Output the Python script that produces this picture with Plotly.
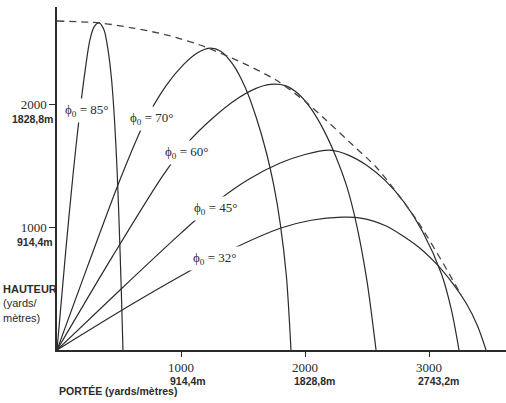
import plotly.graph_objects as go

# Trajectoires (portée / hauteur en yards)
x_85 = [0, 70, 129, 180, 225, 265, 300, 340, 380, 410, 440, 465, 485, 502, 518, 532]
y_85 = [0, 800, 1423, 1900, 2260, 2520, 2630, 2660, 2600, 2450, 2200, 1850, 1450, 1000, 500, 0]

x_70 = [0, 250, 508, 700, 880, 1020, 1130, 1230, 1320, 1420, 1520, 1610, 1690, 1750, 1800, 1850, 1887]
y_70 = [0, 690, 1385, 1840, 2150, 2320, 2415, 2455, 2430, 2320, 2130, 1880, 1600, 1330, 1030, 600, 0]

x_60 = [0, 450, 855, 1050, 1250, 1450, 1600, 1720, 1840, 1950, 2050, 2150, 2250, 2340, 2420, 2500, 2573]
y_60 = [0, 765, 1420, 1680, 1880, 2040, 2125, 2160, 2150, 2080, 1960, 1790, 1570, 1320, 1000, 560, 0]

x_45 = [0, 500, 1000, 1300, 1550, 1800, 2000, 2200, 2350, 2500, 2650, 2800, 2950, 3100, 3180, 3242]
y_45 = [0, 480, 950, 1215, 1390, 1520, 1590, 1625, 1585, 1500, 1375, 1200, 960, 620, 330, 0]

x_32 = [0, 600, 1129, 1400, 1800, 2050, 2300, 2450, 2650, 2900, 3060, 3200, 3300, 3390, 3460]
y_32 = [0, 370, 675, 815, 990, 1055, 1080, 1073, 1010, 850, 700, 530, 380, 200, 0]

# enveloppe (tirets)
x_env = [0, 347, 613, 887, 1153, 1500, 1766, 2008, 2169, 2387, 2573, 2766, 2911, 3113, 3250]
y_env = [2675, 2659, 2618, 2561, 2480, 2333, 2195, 2016, 1870, 1665, 1488, 1244, 1041, 707, 463]

angles = ["85", "70", "60", "45", "32"]
label_x = [234, 766, 1048, 1282, 1274]
label_y = [1951, 1886, 1610, 1154, 740]

x_ticks = [1000, 2000, 3000]
x_metres = ["914,4m", "1828,8m", "2743,2m"]
y_ticks = [1000, 2000]
y_metres = ["914,4m", "1828,8m"]

ink = '#2b2b2b'
serif = "Liberation Serif"
sans = "Liberation Sans"

fig = go.Figure()

for xs, ys in [(x_85, y_85), (x_70, y_70), (x_60, y_60), (x_45, y_45), (x_32, y_32)]:
    fig.add_trace(go.Scatter(
        x=xs, y=ys, mode='lines',
        line=dict(color=ink, width=1.2, shape='spline', smoothing=0.8),
        showlegend=False, hoverinfo='skip'
    ))

fig.add_trace(go.Scatter(
    x=x_env, y=y_env, mode='lines',
    line=dict(color='#444444', width=1.3, dash='7px,5px', shape='spline', smoothing=0.8),
    showlegend=False, hoverinfo='skip'
))

# étiquettes des angles (fond blanc pour couper les courbes)
for a, lx, ly in zip(angles, label_x, label_y):
    fig.add_annotation(
        x=lx, y=ly, text=f"ϕ<sub>0</sub> = {a}°", showarrow=False,
        font=dict(family=serif, size=13, color=ink),
        bgcolor='white', borderpad=3
    )

# valeurs métriques sous les graduations
for v, t in zip(x_ticks, x_metres):
    fig.add_annotation(
        x=v, y=0, xref='x', yref='paper', text=f"<b>{t}</b>", showarrow=False,
        xanchor='left', yanchor='top', xshift=-13, yshift=-23,
        font=dict(family=sans, size=10.5, color=ink)
    )
for v, t in zip(y_ticks, y_metres):
    fig.add_annotation(
        x=0, y=v, xref='paper', yref='y', text=f"<b>{t}</b>", showarrow=False,
        xanchor='right', yanchor='middle', xshift=-2, yshift=-15,
        font=dict(family=sans, size=10.5, color=ink)
    )

fig.add_annotation(
    x=-0.125, y=0.137, xref='paper', yref='paper', align='left',
    text="<b>HAUTEUR</b><br>(yards/<br>mètres)", showarrow=False,
    xanchor='left', yanchor='middle',
    font=dict(family=sans, size=11, color=ink)
)
fig.add_annotation(
    x=0, y=0, xref='paper', yref='paper', text="<b>PORTÉE (yards/mètres)</b>",
    showarrow=False, xanchor='left', yanchor='middle', yshift=-41,
    font=dict(family=sans, size=10.5, color=ink)
)

fig.update_layout(
    width=506, height=403,
    margin=dict(l=57, r=0, t=7, b=53),
    plot_bgcolor='white', paper_bgcolor='white',
    xaxis=dict(
        range=[0, 3621], showgrid=False, zeroline=False,
        showline=True, linecolor=ink, linewidth=1.5,
        tickvals=x_ticks, ticktext=[str(v) for v in x_ticks],
        ticks='outside', ticklen=5, tickcolor=ink, tickwidth=1.2,
        tickfont=dict(family=serif, size=13, color=ink)
    ),
    yaxis=dict(
        range=[0, 2789], showgrid=False, zeroline=False,
        showline=True, linecolor=ink, linewidth=1.5,
        tickvals=y_ticks, ticktext=[str(v) for v in y_ticks],
        ticks='outside', ticklen=6, tickcolor=ink, tickwidth=1.2,
        tickfont=dict(family=serif, size=13, color=ink)
    )
)

# pas de marge autour de la page, pas de barre d'outils
fig.write_html("out.html", config={'displayModeBar': False},
               post_script="document.body.style.margin='0';")
